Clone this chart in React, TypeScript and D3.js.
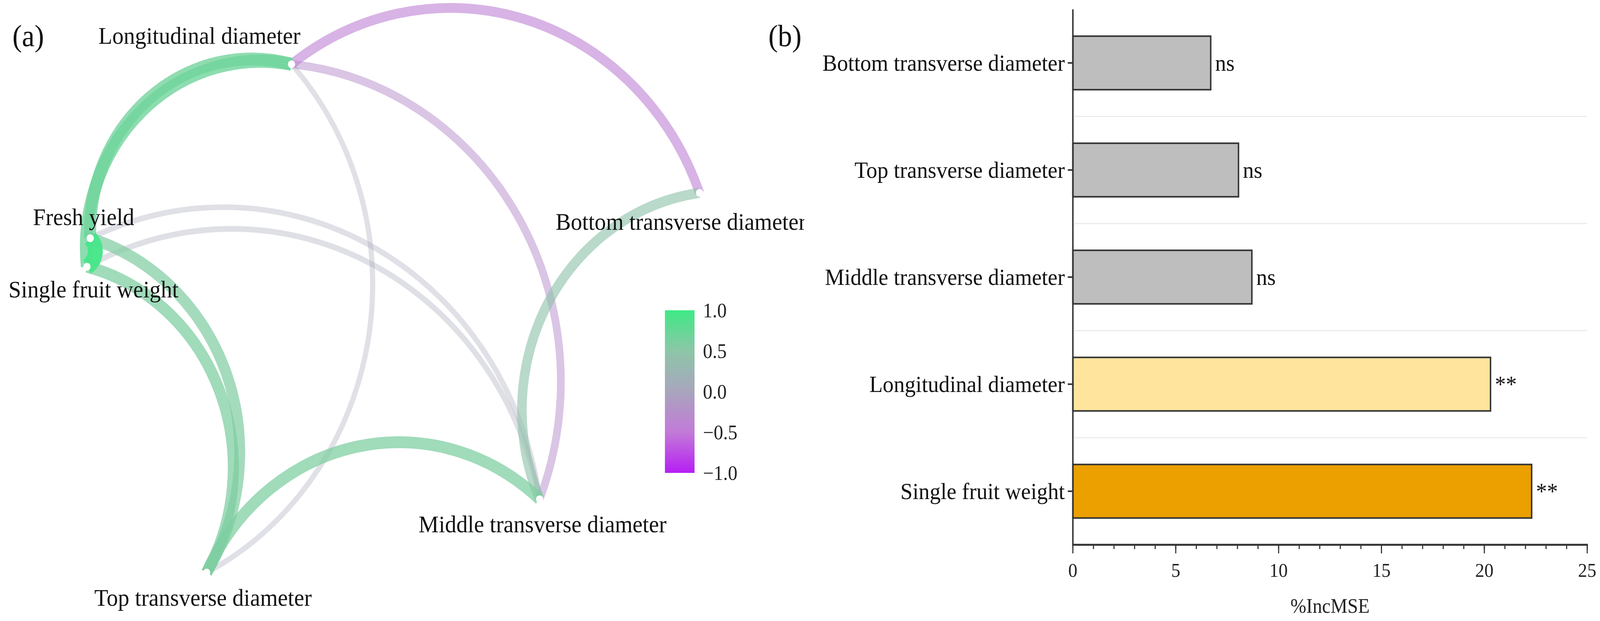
import * as d3 from "d3";

// ---- panel (a): correlation network ----
const nodeNames = [
  "Fresh yield",
  "Single fruit weight",
  "Longitudinal diameter",
  "Top transverse diameter",
  "Middle transverse diameter",
  "Bottom transverse diameter",
];
// normalised layout coordinates of the network (y up)
const nodeX = [0.026, 0.021, 0.332, 0.203, 0.709, 0.952];
const nodeY = [0.636, 0.584, 0.954, 0.025, 0.159, 0.719];

// correlation edges (index into nodeNames)
const edgeFrom = [0, 0, 1, 0, 1, 0, 1, 2, 2, 2, 3, 4];
const edgeTo = [1, 2, 2, 3, 3, 4, 4, 3, 4, 5, 4, 5];
const edgeR = [0.95, 0.68, 0.7, 0.58, 0.6, 0.05, 0.06, 0.04, -0.28, -0.42, 0.6, 0.45];

const legendTicks = [1.0, 0.5, 0.0, -0.5, -1.0];

// ---- panel (b): %IncMSE bars ----
const barNames = [
  "Bottom transverse diameter",
  "Top transverse diameter",
  "Middle transverse diameter",
  "Longitudinal diameter",
  "Single fruit weight",
];
const barValues = [6.7, 8.05, 8.7, 20.3, 22.3];
const barSig = ["ns", "ns", "ns", "**", "**"];
const xTicks = [0, 5, 10, 15, 20, 25];

const FONT = "'Liberation Serif', 'Times New Roman', serif";
const W = 4377;
const H = 1589;

function arcPath(x0: number, y0: number, x1: number, y1: number, k = 0.25) {
  const dx = x1 - x0, dy = y1 - y0, L = Math.hypot(dx, dy);
  const nx = dy / L, ny = -dx / L;
  const h = k * L;
  const R = (L * L / 4 + h * h) / (2 * h);
  const mx = (x0 + x1) / 2, my = (y0 + y1) / 2;
  const cx = mx - (R - h) * nx, cy = my - (R - h) * ny;
  const a0 = Math.atan2(y0 - cy, x0 - cx);
  const a1 = Math.atan2(y1 - cy, x1 - cx);
  const am = Math.atan2(my + h * ny - cy, mx + h * nx - cx);
  const TAU = Math.PI * 2;
  const norm = (a: number) => ((a % TAU) + TAU) % TAU;
  const ccw = !(norm(am - a0) < norm(a1 - a0));
  const p = d3.path();
  p.moveTo(x0, y0);
  p.arc(cx, cy, R, a0, a1, ccw);
  return p.toString();
}

const Network = () => {
  const sx = d3.scaleLinear().domain([0, 1]).range([200, 2000]);
  const sy = d3.scaleLinear().domain([0, 1]).range([1500, 100]);
  const color = d3
    .scaleLinear<string>()
    .domain([-1, -0.5, 0, 0.5, 1])
    .range(["#b61ff3", "#c27ad8", "#a9a5bd", "#8dc6a8", "#3fe985"])
    .interpolate(d3.interpolateRgb);
  const width = d3.scaleLinear().domain([0, 1]).range([13, 42]);
  const alpha = d3.scaleLinear().domain([0, 1]).range([0.32, 1]);

  const edges = edgeR
    .map((r, i) => ({ r, s: edgeFrom[i], t: edgeTo[i] }))
    .sort((a, b) => Math.abs(a.r) - Math.abs(b.r));

  // label offsets from node position (px)
  const labelOff = [
    [-18, -34],
    [18, 79],
    [-252, -52],
    [-10, 85],
    [8, 85],
    [-51, 95],
  ];

  const cb = d3.scaleLinear().domain([1, -1]).range([794, 1210]);
  const gradStops = d3.range(-1, 1.001, 0.1);

  return (
    <g>
      <defs>
        <clipPath id="clipA">
          <rect x={0} y={0} width={2200} height={H} />
        </clipPath>
        <linearGradient id="cbar" x1="0" y1="1" x2="0" y2="0">
          {gradStops.map((v) => (
            <stop key={v.toFixed(2)} offset={(v + 1) / 2} stopColor={color(v)} />
          ))}
        </linearGradient>
      </defs>
      <g clipPath="url(#clipA)">
        {edges.map((e, i) => (
          <path
            key={i}
            d={arcPath(sx(nodeX[e.s]), sy(nodeY[e.s]), sx(nodeX[e.t]), sy(nodeY[e.t]))}
            fill="none"
            stroke={color(e.r)}
            strokeOpacity={alpha(Math.abs(e.r))}
            strokeWidth={width(Math.abs(e.r))}
            strokeLinecap="butt"
          />
        ))}
        {nodeNames.map((n, i) => (
          <circle key={n} cx={sx(nodeX[i])} cy={sy(nodeY[i])} r={10} fill="#fff" />
        ))}
        {nodeNames.map((n, i) => (
          <text
            key={n}
            x={sx(nodeX[i]) + labelOff[i][0]}
            y={sy(nodeY[i]) + labelOff[i][1]}
            textAnchor="middle"
            fontSize={62}
            fontFamily={FONT}
            fill="#111"
          >
            {n}
          </text>
        ))}
      </g>
      <rect x={1819} y={cb(1)} width={81} height={cb(-1) - cb(1)} fill="url(#cbar)" />
      {legendTicks.map((t) => (
        <text
          key={t}
          x={1923}
          y={cb(t)}
          dominantBaseline="central"
          fontSize={52}
          fontFamily={FONT}
          fill="#222"
        >
          {d3.format(".1f")(t).replace("-", "\u2212")}
        </text>
      ))}
      <text x={34} y={118} fontSize={78} fontFamily={FONT} fill="#111">
        (a)
      </text>
    </g>
  );
};

const Bars = () => {
  const x = d3.scaleLinear().domain([0, 25]).range([2935, 4342]);
  const y = d3.scaleBand<string>().domain(barNames).range([24, 1394]).paddingInner(0.5).paddingOuter(0.25);
  const fills = ["#bebebe", "#bebebe", "#bebebe", "#ffe49e", "#eba000"];
  const bw = y.bandwidth();
  const axisY = 1394;
  const minor = x.ticks(25);

  return (
    <g>
      <text x={2102} y={118} fontSize={78} fontFamily={FONT} fill="#111">
        (b)
      </text>
      {barNames.slice(0, -1).map((n, i) => {
        const gy = ((y(n) as number) + bw + (y(barNames[i + 1]) as number)) / 2;
        return <line key={n} x1={x(0) + 6} x2={x(25)} y1={gy} y2={gy} stroke="#ebebeb" strokeWidth={3} />;
      })}
      {barNames.map((n, i) => (
        <g key={n}>
          <rect
            x={x(0)}
            y={y(n)}
            width={x(barValues[i]) - x(0)}
            height={bw}
            fill={fills[i]}
            stroke="#333"
            strokeWidth={4}
          />
          <text
            x={x(barValues[i]) + 12}
            y={(y(n) as number) + bw / 2}
            dominantBaseline="central"
            fontSize={60}
            fontFamily={FONT}
            fill="#111"
          >
            {barSig[i]}
          </text>
          <line x1={x(0) - 14} x2={x(0)} y1={(y(n) as number) + bw / 2} y2={(y(n) as number) + bw / 2} stroke="#333" strokeWidth={4} />
          <text
            x={x(0) - 22}
            y={(y(n) as number) + bw / 2}
            textAnchor="end"
            dominantBaseline="central"
            fontSize={60}
            fontFamily={FONT}
            fill="#111"
          >
            {n}
          </text>
        </g>
      ))}
      <line x1={x(0)} x2={x(0)} y1={24} y2={axisY} stroke="#333" strokeWidth={4} />
      <line x1={x(0) - 2} x2={x(25) + 2} y1={axisY} y2={axisY} stroke="#333" strokeWidth={5} />
      {minor.map((t) => (
        <line key={"m" + t} x1={x(t)} x2={x(t)} y1={axisY} y2={axisY + 11} stroke="#333" strokeWidth={3} />
      ))}
      {xTicks.map((t) => (
        <g key={t}>
          <line x1={x(t)} x2={x(t)} y1={axisY} y2={axisY + 22} stroke="#333" strokeWidth={3} />
          <text x={x(t)} y={axisY + 82} textAnchor="middle" fontSize={50} fontFamily={FONT} fill="#222">
            {t}
          </text>
        </g>
      ))}
      <text x={(x(0) + x(25)) / 2} y={1568} textAnchor="middle" fontSize={52} fontFamily={FONT} fill="#222">
        %IncMSE
      </text>
    </g>
  );
};

export default function App() {
  return (
    <svg
      viewBox={`0 0 ${W} ${H}`}
      preserveAspectRatio="none"
      style={{ position: "fixed", left: 0, top: 0, width: "100vw", height: "100vh", display: "block", background: "#fff" }}
    >
      <rect width={W} height={H} fill="#fff" />
      <Network />
      <Bars />
    </svg>
  );
}
